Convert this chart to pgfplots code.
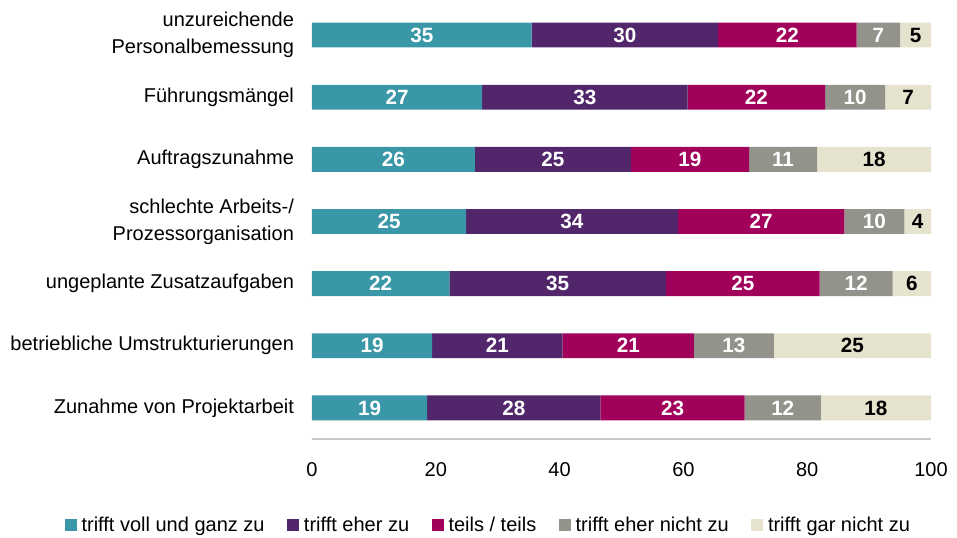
\documentclass[border=0pt]{standalone}
\usepackage{pgfplots}
\pgfplotsset{compat=1.18}
\usepackage{pgfplotstable}
\usepackage{fontspec}
\setmainfont{Liberation Sans}

\definecolor{cA}{HTML}{3A97A8}
\definecolor{cB}{HTML}{52266A}
\definecolor{cC}{HTML}{A1005B}
\definecolor{cD}{HTML}{93928B}
\definecolor{cE}{HTML}{E5E2CE}
\definecolor{axgray}{HTML}{C8C8C8}

\newcommand{\txtfont}{\fontsize{15}{20}\selectfont}
\newcommand{\barfont}{\fontsize{15.5}{18}\selectfont\bfseries}

\pgfplotstableread{
y a b c d e la lb lc ld le
6 35.5 30.1 22.4 7.0 5.0 35 30 22 7 5
5 27.5 33.2 22.2 9.7 7.4 27 33 22 10 7
4 26.3 25.2 19.1 11.0 18.4 26 25 19 11 18
3 24.9 34.2 26.9 9.7 4.3 25 34 27 10 4
2 22.2 35.0 24.8 11.8 6.2 22 35 25 12 6
1 19.4 21.1 21.2 12.9 25.4 19 21 21 13 25
0 18.6 28.0 23.3 12.3 17.8 19 28 23 12 18
}\data

\pgfplotsset{
  seg/.style n args={3}{fill=#1, draw=none,
    nodes near coords,
    every node near coord/.append style={anchor=center, text=#3, font=\barfont}},
}

\begin{document}
\begin{tikzpicture}
\begin{axis}[
  name=ax,
  scale only axis,
  width=464.25pt, height=326.25pt,
  xbar stacked,
  bar width=0.4,
  xmin=0, xmax=100,
  ymin=-0.5, ymax=6.5,
  axis x line*=bottom,
  axis y line*=left,
  y axis line style={draw=none},
  x axis line style={draw=axgray, line width=0.9pt},
  major tick length=0pt,
  xtick={0,20,40,60,80,100},
  ytick={0,1,2,3,4,5,6},
  yticklabels={Zunahme von Projektarbeit, betriebliche Umstrukturierungen, ungeplante Zusatzaufgaben, {schlechte Arbeits-/\\Prozessorganisation}, Auftragszunahme, Führungsmängel, {unzureichende\\Personalbemessung}},
  yticklabel style={align=right, font=\txtfont, xshift=-10pt},
  xticklabel style={font=\txtfont, yshift=-14pt},
  /pgf/number format/assume math mode=true,
  point meta=explicit symbolic,
  legend image code/.code={\fill[#1] (0pt,-4.5pt) rectangle (9pt,4.5pt);},
  legend style={at={(0.285,-0.198)}, anchor=center, draw=none, fill=none,
    legend columns=-1, font=\txtfont,
    nodes={inner sep=1.5pt},
    /tikz/every odd column/.append style={column sep=2pt},
    /tikz/every even column/.append style={column sep=15.5pt}},
]
\addplot[seg={cA}{a}{white}] table[x=a, y=y, meta=la]{\data};
\addlegendentry{trifft voll und ganz zu}
\addplot[seg={cB}{b}{white}] table[x=b, y=y, meta=lb]{\data};
\addlegendentry{trifft eher zu}
\addplot[seg={cC}{c}{white}] table[x=c, y=y, meta=lc]{\data};
\addlegendentry{teils / teils}
\addplot[seg={cD}{d}{white}] table[x=d, y=y, meta=ld]{\data};
\addlegendentry{trifft eher nicht zu}
\addplot[seg={cE}{e}{black}] table[x=e, y=y, meta=le]{\data};
\addlegendentry{trifft gar nicht zu}
\end{axis}
\pgfresetboundingbox
\path[use as bounding box] (ax.south west) ++(-234pt,-74.25pt) rectangle ++(717.75pt,403.5pt);
\end{tikzpicture}
\end{document}
